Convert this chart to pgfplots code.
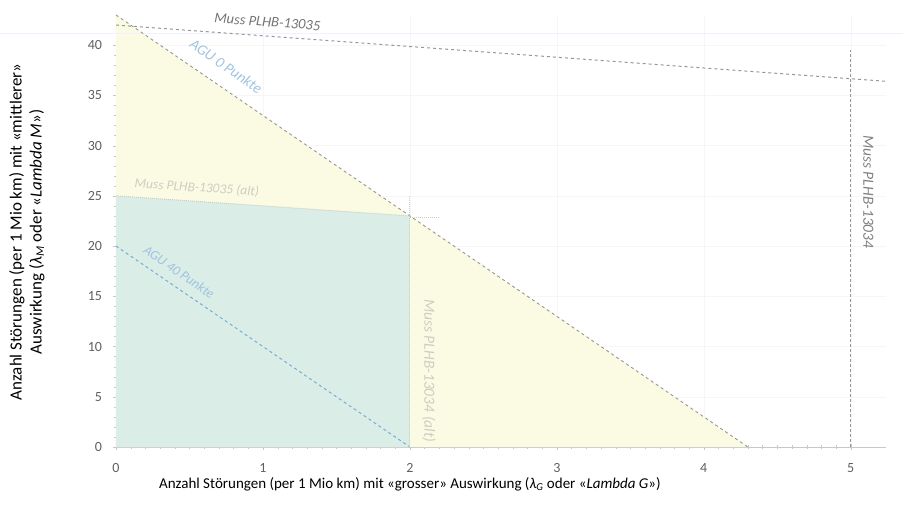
\documentclass[border=0pt]{standalone}
\usepackage{pgfplots}
\pgfplotsset{compat=1.18}
\usepackage{fontspec}
\setmainfont{Carlito}
\usetikzlibrary{calc}

\definecolor{yellowfill}{RGB}{251,251,228}
\definecolor{tealfill}{RGB}{218,237,230}
\definecolor{linegray}{RGB}{150,150,150}
\definecolor{lightgray}{RGB}{205,205,195}
\definecolor{agublue}{RGB}{120,170,215}
\definecolor{agulight}{RGB}{160,195,225}
\definecolor{axisgray}{RGB}{200,200,200}
\definecolor{ticktext}{RGB}{95,95,95}

\begin{document}
\begin{tikzpicture}[font=\fontsize{14}{17}\selectfont]
\begin{axis}[
    scale only axis,
    width=770pt, height=432pt,
    xmin=0, xmax=5.24,
    ymin=0, ymax=43,
    axis x line*=bottom,
    axis y line*=left,
    axis line style={axisgray},
    xtick={0,1,2,3,4,5},
    ytick={0,5,...,40},
    minor x tick num=9,
    minor y tick num=4,
    tick style={axisgray},
    major tick length=5pt,
    minor tick length=4pt,
    tick align=center,
    ticklabel style={text=ticktext},
    xticklabel style={yshift=-10pt},
    yticklabel style={xshift=-8pt},
    /pgf/number format/assume math mode=true,
    grid=major,
    major grid style={gray!7},
    clip=false,
    xlabel={Anzahl Störungen (per 1 Mio km) mit «grosser» Auswirkung ({\itshape λ}\textsubscript{\itshape G} oder «\textit{Lambda G}»)},
    xlabel style={at={(axis cs:2.0,0)}, anchor=north, yshift=-27pt, font=\fontsize{15}{18}\selectfont},
    ylabel={Anzahl Störungen (per 1 Mio km) mit «mittlerer»\\Auswirkung ({\itshape λ}\textsubscript{\itshape M} oder «\textit{Lambda M}»)},
    ylabel style={align=center, at={(axis cs:0,21.4)}, anchor=south, yshift=68pt, font=\fontsize{17}{20}\selectfont},
]
% shaded regions
\addplot[draw=none, fill=yellowfill] coordinates {(0,0) (0,43) (4.3,0) (0,0)};
\addplot[draw=none, fill=tealfill] coordinates {(0,0) (0,25) (2,23) (2,0) (0,0)};

% faint band line at the top
\addplot[draw=blue!6, line width=1pt] coordinates {(-0.8,41.2) (5.36,41.2)};

% Muss PLHB-13035
\addplot[linegray, dashed, line width=1pt] coordinates {(0,42) (5.24,36.4)};
% AGU 0 Punkte
\addplot[linegray, dashed, line width=0.9pt] coordinates {(0,43) (4.3,0)};
% AGU 40 Punkte
\addplot[agublue, dashed, line width=1pt] coordinates {(0,20) (2,0)};
% Muss PLHB-13035 (alt)
\addplot[lightgray, densely dotted, line width=1pt] coordinates {(0,25) (2,23)};
\addplot[lightgray, densely dotted, line width=1pt] coordinates {(2,22.8) (2.2,22.8)};
% Muss PLHB-13034 (alt)
\addplot[lightgray, densely dotted, line width=1pt] coordinates {(2,0) (2,25)};
% Muss PLHB-13034
\addplot[linegray, densely dashed, line width=1pt] coordinates {(5,0) (5,39.5)};

% labels
\node[text=gray!90!black, font=\fontsize{14.5}{17}\selectfont\itshape, rotate=-4.3]
  at (axis cs:1.03,42.3) {Muss PLHB-13035};
\node[text=agulight, font=\fontsize{15}{17}\selectfont\itshape, rotate=-34.4]
  at (axis cs:0.75,37.9) {AGU 0 Punkte};
\node[text=lightgray, font=\fontsize{13.5}{16}\selectfont\itshape, rotate=-3.9]
  at (axis cs:0.55,25.8) {Muss PLHB-13035 (alt)};
\node[text=agulight, font=\fontsize{13.5}{16}\selectfont\itshape, rotate=-34.5]
  at (axis cs:0.43,17.4) {AGU 40 Punkte};
\node[text=lightgray, font=\fontsize{15.5}{18}\selectfont\itshape, rotate=-90]
  at (axis cs:2.13,7.6) {Muss PLHB-13034 (alt)};
\node[text=gray, font=\fontsize{15.5}{18}\selectfont\itshape, rotate=-90]
  at (axis cs:5.12,25.4) {Muss PLHB-13034};
\end{axis}
\pgfresetboundingbox
\path ($(current axis.south west)+(-116pt,-70pt)$) rectangle ++(903pt,517pt);
\end{tikzpicture}
\end{document}
